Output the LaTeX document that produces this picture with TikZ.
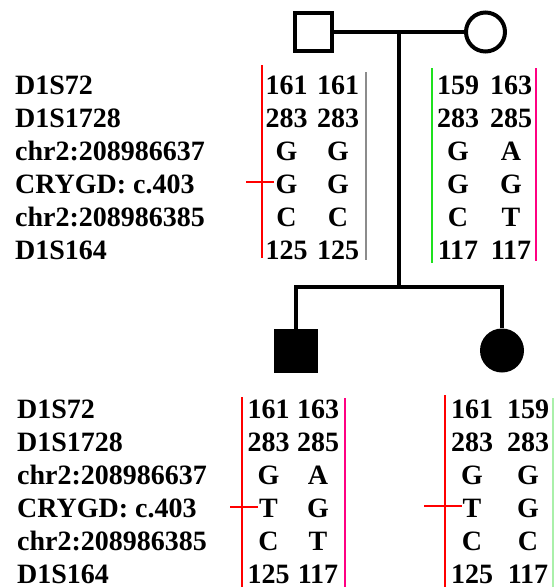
\documentclass[tikz,border=0pt]{standalone}
\usepackage{fontspec}
\setmainfont{Liberation Serif}
\usetikzlibrary{calc}
\definecolor{hapred}{RGB}{255,0,0}
\definecolor{hapgray}{RGB}{140,140,140}
\definecolor{hapgreen}{RGB}{30,225,30}
\definecolor{happink}{RGB}{255,0,130}
\definecolor{haplight}{RGB}{170,240,170}
\tikzset{
  male/.style={draw, line width=4pt, rectangle, minimum size=37.5pt, inner sep=0pt},
  female/.style={draw, line width=4pt, circle, minimum size=39pt, inner sep=0pt},
  malefilled/.style={fill, rectangle, minimum size=44pt, inner sep=0pt},
  femalefilled/.style={fill, circle, minimum size=44pt, inner sep=0pt},
  link/.style={line width=3.3pt},
  marker/.style={anchor=base west, inner sep=0pt, font=\bfseries\fontsize{28}{33}\selectfont},
  allele/.style={anchor=base, inner sep=0pt, font=\bfseries\fontsize{28}{33}\selectfont},
  hapbar/.style={line width=2pt},
}
\begin{document}
\begin{tikzpicture}[x=1pt,y=-1pt]
\useasboundingbox (0,0) rectangle (554,587);
\fill[white] (0,0) rectangle (554,587);

% pedigree symbols
\node[male] (father) at (313.3,32) {};
\node[female] (mother) at (485.5,32) {};
\node[malefilled] (son) at (296,351) {};
\node[femalefilled] (daughter) at (502,350.5) {};

% marriage, descent and sibship lines
\coordinate (mid) at (399,32);
\coordinate (sib) at (399,287);
\coordinate (sibL) at (296,287);
\coordinate (sibR) at (502,287);
\draw[link] (father.east) -- (mother.west);
\draw[link] (mid) -- (sib);
\draw[link, line cap=rect] (sibL) -- (sibR);
\draw[link] (sibL) -- (son.north);
\draw[link] (sibR) -- (daughter.north);

% marker names
\foreach \m [count=\i from 0] in {D1S72,D1S1728,chr2:208986637,CRYGD: c.403,chr2:208986385,D1S164} {
  \node[marker] (mt\i) at (15,94+33*\i) {\m};
  \node[marker] (mb\i) at (17,418+33*\i) {\m};
}

% father haplotypes
\foreach \a/\b [count=\i from 0] in {161/161,283/283,G/G,G/G,C/C,125/125} {
  \node[allele] (fa\i) at (286.5,94+33*\i) {\a};
  \node[allele] (fb\i) at (338,94+33*\i) {\b};
}
% mother haplotypes
\foreach \a/\b [count=\i from 0] in {159/163,283/285,G/A,G/G,C/T,117/117} {
  \node[allele] (ma\i) at (458,94+33*\i) {\a};
  \node[allele] (mb\i) at (511,94+33*\i) {\b};
}
% son haplotypes
\foreach \a/\b [count=\i from 0] in {161/163,283/285,G/A,T/G,C/T,125/117} {
  \node[allele] (sa\i) at (268.5,418+33*\i) {\a};
  \node[allele] (sb\i) at (318,418+33*\i) {\b};
}
% daughter haplotypes
\foreach \a/\b [count=\i from 0] in {161/159,283/283,G/G,T/G,C/C,125/117} {
  \node[allele] (da\i) at (472,418+33*\i) {\a};
  \node[allele] (db\i) at (528,418+33*\i) {\b};
}

% haplotype bars
\draw[hapbar, hapred] (262,65) -- (262,258);
\draw[hapbar, hapgray] (366,72) -- (366,260);
\draw[hapbar, hapgreen] (432,68) -- (432,263);
\draw[hapbar, happink] (536,68) -- (536,261);
\draw[hapbar, hapred] (242,397) -- (242,587);
\draw[hapbar, happink] (345,398) -- (345,587);
\draw[hapbar, hapred] (444.5,395) -- (444.5,587);
\draw[hapbar, haplight] (552.5,398) -- (552.5,587);

% mutation ticks
\draw[hapbar, hapred] (246,182) -- (274,182);
\draw[hapbar, hapred] (230,507) -- (258,507);
\draw[hapbar, hapred] (424,506) -- (462,506);
\end{tikzpicture}
\end{document}
